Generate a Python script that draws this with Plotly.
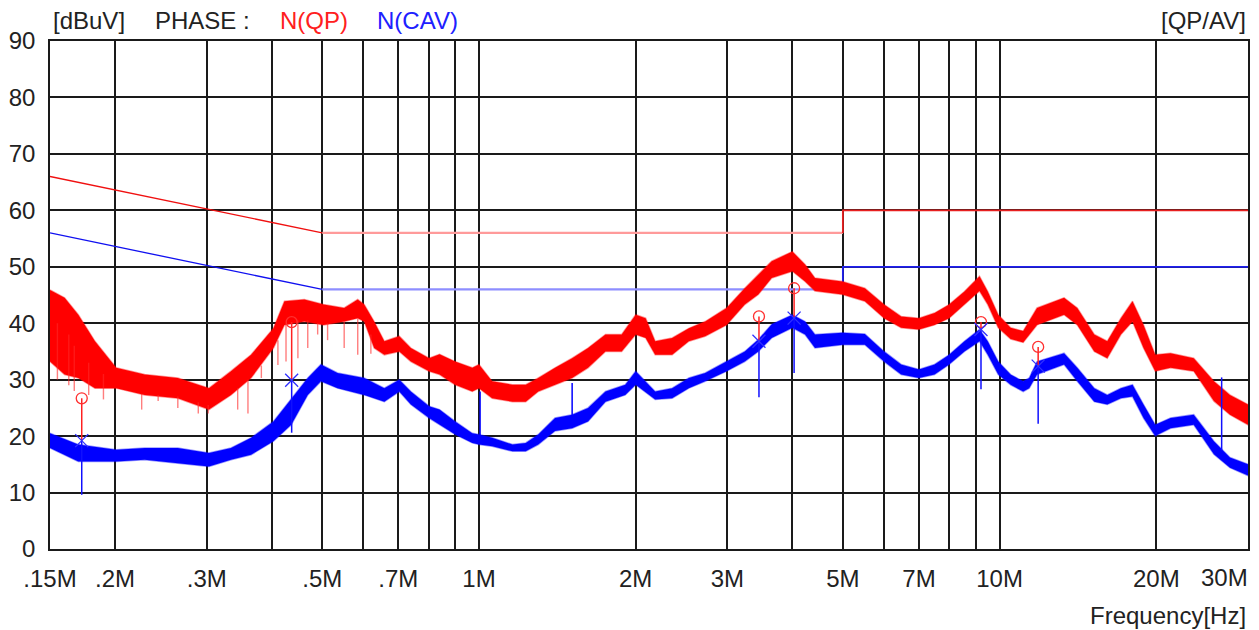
import math
import plotly.graph_objects as go

# frequency grid lines (MHz) and their labels (30M is placed as an annotation)
grid_f = [0.15, 0.2, 0.3, 0.4, 0.5, 0.6, 0.7, 0.8, 0.9, 1, 2, 3, 4, 5, 6, 7, 8, 9, 10, 20, 30]
grid_lbl = [".15M", ".2M", ".3M", "", ".5M", "", ".7M", "", "", "1M",
            "2M", "3M", "", "5M", "", "7M", "", "", "10M", "20M", ""]

# limit lines
lim_f = [0.15, 0.5, 0.5, 5, 5, 30]
qp_limit = [66, 56, 56, 56, 60, 60]
av_limit = [56, 46, 46, 46, 50, 50]

# QP trace (red) - upper / lower envelope
qp_f = [0.150, 0.160, 0.170, 0.183, 0.201, 0.228, 0.264, 0.303, 0.334, 0.365,
        0.403, 0.423, 0.462, 0.503, 0.551, 0.585, 0.602, 0.629, 0.658, 0.703,
        0.740, 0.802, 0.840, 0.900, 0.971, 1.00, 1.06, 1.16, 1.23, 1.30,
        1.40, 1.51, 1.62, 1.75, 1.88, 2.00, 2.09, 2.18, 2.35, 2.53,
        2.72, 2.99, 3.24, 3.44, 3.65, 4.00, 4.23, 4.42, 4.99, 5.51,
        6.00, 6.47, 7.00, 7.50, 8.00, 8.56, 9.15, 9.49, 9.94, 10.5,
        11.1, 11.8, 13.3, 14.1, 15.2, 16.1, 17.1, 18.0, 18.9, 19.9,
        21.3, 23.6, 25.8, 27.7, 30.0]
qp_hi = [45.9, 44.5, 41.5, 36.8, 32.1, 30.9, 30.3, 28.5, 31.5, 34.4,
         39.1, 43.9, 44.2, 43.3, 42.7, 44.2, 43.3, 40.3, 36.8, 37.7,
         35.6, 33.8, 34.5, 33.2, 32.1, 32.7, 29.7, 29.1, 29.1, 30.3,
         32.1, 33.8, 35.6, 38.0, 38.0, 41.5, 40.9, 36.8, 37.4, 39.1,
         40.3, 42.7, 46.2, 48.6, 51.0, 52.7, 50.4, 48.0, 47.4, 46.2,
         43.3, 41.2, 40.9, 41.8, 43.3, 45.6, 48.3, 45.6, 41.5, 39.2,
         38.6, 42.7, 44.5, 42.7, 38.0, 36.8, 40.9, 43.9, 39.7, 34.4,
         34.7, 33.8, 29.7, 27.3, 25.6]
qp_lo = [33.2, 30.9, 30.3, 28.5, 28.5, 27.3, 26.7, 24.7, 27.3, 30.3,
         35.6, 39.7, 40.3, 39.7, 40.3, 40.9, 40.3, 35.6, 34.4, 35.0,
         33.2, 31.5, 30.9, 29.1, 27.9, 28.5, 26.7, 26.1, 26.1, 27.9,
         29.1, 30.3, 32.1, 35.0, 35.0, 38.0, 37.4, 34.4, 34.4, 36.8,
         37.7, 39.7, 43.3, 45.1, 48.0, 49.2, 47.4, 45.7, 45.1, 43.9,
         40.9, 39.2, 38.9, 39.7, 40.9, 43.3, 45.7, 43.3, 39.2, 37.2,
         36.6, 39.7, 41.5, 39.7, 35.0, 33.8, 38.0, 40.3, 35.6, 31.5,
         32.1, 31.5, 26.2, 23.8, 22.0]

# light downward spikes on the QP trace
qp_spike_f = [0.155, 0.163, 0.167, 0.178, 0.190, 0.225, 0.242, 0.264, 0.289, 0.302,
              0.344, 0.360, 0.382, 0.411, 0.426, 0.449, 0.469, 0.490, 0.512,
              0.551, 0.585, 0.620]
qp_spike_top = [40.0, 38.0, 36.0, 33.0, 31.0, 27.5, 27.3, 27.0, 26.0, 25.5,
                28.5, 30.0, 32.5, 37.0, 40.0, 40.5, 40.5, 40.0, 40.0,
                40.3, 40.8, 38.0]
qp_spike_bot = [30.0, 29.0, 28.0, 27.3, 26.5, 24.7, 26.2, 25.0, 24.0, 24.0,
                24.7, 24.0, 30.3, 32.6, 33.2, 33.8, 35.6, 38.0, 37.0,
                35.6, 34.4, 34.6]

# CAV trace (blue)
av_f = [0.150, 0.170, 0.201, 0.228, 0.264, 0.303, 0.334, 0.365, 0.403, 0.436,
        0.469, 0.497, 0.535, 0.602, 0.658, 0.703, 0.740, 0.802, 0.840, 0.900,
        0.971, 1.00, 1.06, 1.16, 1.23, 1.30, 1.40, 1.51, 1.62, 1.75,
        1.91, 2.00, 2.18, 2.35, 2.53, 2.72, 2.99, 3.24, 3.44, 3.65,
        4.00, 4.23, 4.42, 4.99, 5.51, 6.00, 6.47, 7.00, 7.50, 8.00,
        8.56, 9.15, 9.49, 9.94, 10.5, 11.1, 11.4, 11.8, 13.3, 14.1,
        15.2, 16.1, 17.1, 18.0, 18.9, 19.9, 21.3, 23.6, 25.8, 27.7, 30.0]
av_hi = [20.5, 18.5, 17.6, 17.9, 17.9, 17.0, 17.9, 19.7, 22.6, 26.7,
         30.3, 32.7, 31.2, 30.3, 28.5, 30.0, 27.9, 25.3, 24.7, 22.6,
         20.5, 20.3, 19.7, 18.5, 18.8, 20.3, 23.2, 23.8, 25.0, 27.9,
         29.1, 31.5, 27.9, 28.5, 30.3, 31.2, 33.2, 35.0, 37.1, 39.8,
         41.5, 40.3, 38.0, 38.3, 38.1, 35.0, 32.7, 31.8, 32.7, 34.4,
         36.8, 38.9, 36.8, 33.2, 30.9, 29.7, 30.3, 33.2, 34.7, 32.1,
         28.5, 27.3, 28.5, 29.1, 25.6, 22.0, 23.2, 23.8, 19.1, 16.2, 15.0]
av_lo = [17.9, 15.5, 15.5, 15.8, 15.2, 14.6, 15.8, 16.7, 19.1, 22.0,
         27.3, 29.7, 28.5, 27.3, 26.1, 27.9, 25.6, 23.2, 22.0, 20.3,
         18.8, 18.5, 18.2, 17.3, 17.3, 18.5, 20.9, 21.4, 22.6, 26.1,
         27.3, 29.1, 26.5, 26.7, 28.5, 29.7, 31.5, 33.2, 35.0, 37.4,
         39.2, 38.0, 35.6, 36.2, 36.2, 33.2, 30.9, 30.3, 30.9, 32.7,
         35.0, 36.8, 34.4, 30.9, 29.1, 27.9, 28.5, 30.9, 32.7, 29.7,
         26.1, 25.6, 26.7, 27.0, 23.2, 20.0, 21.4, 22.0, 16.8, 14.4, 13.0]

av_spike_f = [1.005, 1.51]
av_spike_top = [27.9, 29.4]
av_spike_bot = [19.5, 22.0]

# measured points (QP circles, AV crosses) and the marker stems
mk_f = [0.1726, 0.4368, 3.45, 4.03, 9.21, 11.86]
mk_qp = [26.7, 40.2, 41.2, 46.2, 40.2, 35.8]
mk_av = [19.2, 29.9, 36.8, 40.9, 38.9, 32.4]
mk_floor = [9.6, 20.6, 26.9, 31.2, 28.3, 22.2]
stem_f = [26.7]
stem_top = [30.4]
stem_bot = [17.5]

FONT = "Liberation Sans, Arial, sans-serif"
FS = 24
TXT = "#222222"

fig = go.Figure()


def segs(xs, y0s, y1s):
    x, y = [], []
    for f, a, b in zip(xs, y0s, y1s):
        x += [f, f, None]
        y += [a, b, None]
    return x, y


# limit lines: slope part, flat middle part, upper band part
fig.add_trace(go.Scatter(x=lim_f[0:2], y=qp_limit[0:2], mode="lines",
                         line=dict(color="#f01010", width=1.3)))
fig.add_trace(go.Scatter(x=lim_f[1:4], y=qp_limit[1:4], mode="lines",
                         line=dict(color="#ff9a9a", width=2.2)))
fig.add_trace(go.Scatter(x=lim_f[3:6], y=qp_limit[3:6], mode="lines",
                         line=dict(color="#e82020", width=1.8)))
fig.add_trace(go.Scatter(x=lim_f[0:2], y=av_limit[0:2], mode="lines",
                         line=dict(color="#1010f0", width=1.3)))
fig.add_trace(go.Scatter(x=lim_f[1:4], y=av_limit[1:4], mode="lines",
                         line=dict(color="#8e8eff", width=2.2)))
fig.add_trace(go.Scatter(x=lim_f[3:6], y=av_limit[3:6], mode="lines",
                         line=dict(color="#2020f0", width=1.8)))

# blue band
fig.add_trace(go.Scatter(x=av_f + av_f[::-1], y=av_hi + av_lo[::-1], mode="lines",
                         fill="toself", fillcolor="#0000ff",
                         line=dict(color="rgba(0,0,255,0.4)", width=1.5)))
sx, sy = segs(av_spike_f, av_spike_top, av_spike_bot)
fig.add_trace(go.Scatter(x=sx, y=sy, mode="lines", line=dict(color="#0000ff", width=1.5)))

# red band
fig.add_trace(go.Scatter(x=qp_f + qp_f[::-1], y=qp_hi + qp_lo[::-1], mode="lines",
                         fill="toself", fillcolor="#ff0000",
                         line=dict(color="rgba(255,0,0,0.4)", width=1.5)))
sx, sy = segs(qp_spike_f, qp_spike_top, qp_spike_bot)
fig.add_trace(go.Scatter(x=sx, y=sy, mode="lines",
                         line=dict(color="rgba(255,40,40,0.6)", width=1.4)))

# marker stems
sx, sy = segs(mk_f, mk_qp, mk_av)
fig.add_trace(go.Scatter(x=sx, y=sy, mode="lines", line=dict(color="#ff2020", width=1.5)))
sx, sy = segs(mk_f + stem_f, mk_av + stem_top, mk_floor + stem_bot)
fig.add_trace(go.Scatter(x=sx, y=sy, mode="lines", line=dict(color="#1010ff", width=1.5)))

fig.add_trace(go.Scatter(x=mk_f, y=mk_qp, mode="markers",
                         marker=dict(symbol="circle-open", size=11, color="#ff3030",
                                     line=dict(width=1.3))))
fig.add_trace(go.Scatter(x=mk_f, y=mk_av, mode="markers",
                         marker=dict(symbol="x-thin-open", size=13, color="#3030ff",
                                     line=dict(width=1.3))))

# the page body adds ~8px around the figure, so the figure is 8px smaller
fig.update_layout(
    width=1251, height=622,
    margin=dict(l=42, r=11, t=33, b=81, autoexpand=False),
    paper_bgcolor="white", plot_bgcolor="white",
    showlegend=False,
    font=dict(family=FONT, size=FS, color=TXT),
    xaxis=dict(type="log", range=[math.log10(0.15), math.log10(30)],
               tickmode="array", tickvals=grid_f, ticktext=grid_lbl,
               showgrid=True, gridcolor="#1a1a1a", gridwidth=1.5,
               showline=True, linecolor="#1a1a1a", linewidth=1.5, mirror=True,
               ticks="", ticklabelstandoff=7, zeroline=False, automargin=False,
               tickfont=dict(family=FONT, size=FS, color=TXT)),
    yaxis=dict(range=[0, 90], tickmode="linear", tick0=0, dtick=10,
               showgrid=True, gridcolor="#1a1a1a", gridwidth=1.5,
               showline=True, linecolor="#1a1a1a", linewidth=1.5, mirror=True,
               ticks="", ticklabelstandoff=8, zeroline=False, automargin=False,
               tickfont=dict(family=FONT, size=FS, color=TXT)),
)

# header / axis texts
heads = [("[dBuV]", 0.001, TXT), ("PHASE :", 0.086, TXT),
         ("N(QP)", 0.190, "#ff2020"), ("N(CAV)", 0.271, "#2020ff")]
for txt, xp, col in heads:
    fig.add_annotation(text=txt, x=xp, y=1.041, xref="paper", yref="paper",
                       xanchor="left", yanchor="middle", showarrow=False,
                       font=dict(family=FONT, size=FS, color=col))
fig.add_annotation(text="[QP/AV]", x=1.0, y=1.041, xref="paper", yref="paper",
                   xanchor="right", yanchor="middle", showarrow=False,
                   font=dict(family=FONT, size=FS, color=TXT))
fig.add_annotation(text="30M", x=1.002, y=-0.057, xref="paper", yref="paper",
                   xanchor="right", yanchor="middle", showarrow=False,
                   font=dict(family=FONT, size=FS, color=TXT))
fig.add_annotation(text="Frequency[Hz]", x=1.0, y=-0.130, xref="paper", yref="paper",
                   xanchor="right", yanchor="middle", showarrow=False,
                   font=dict(family=FONT, size=FS, color=TXT))

fig.write_html("out.html")
